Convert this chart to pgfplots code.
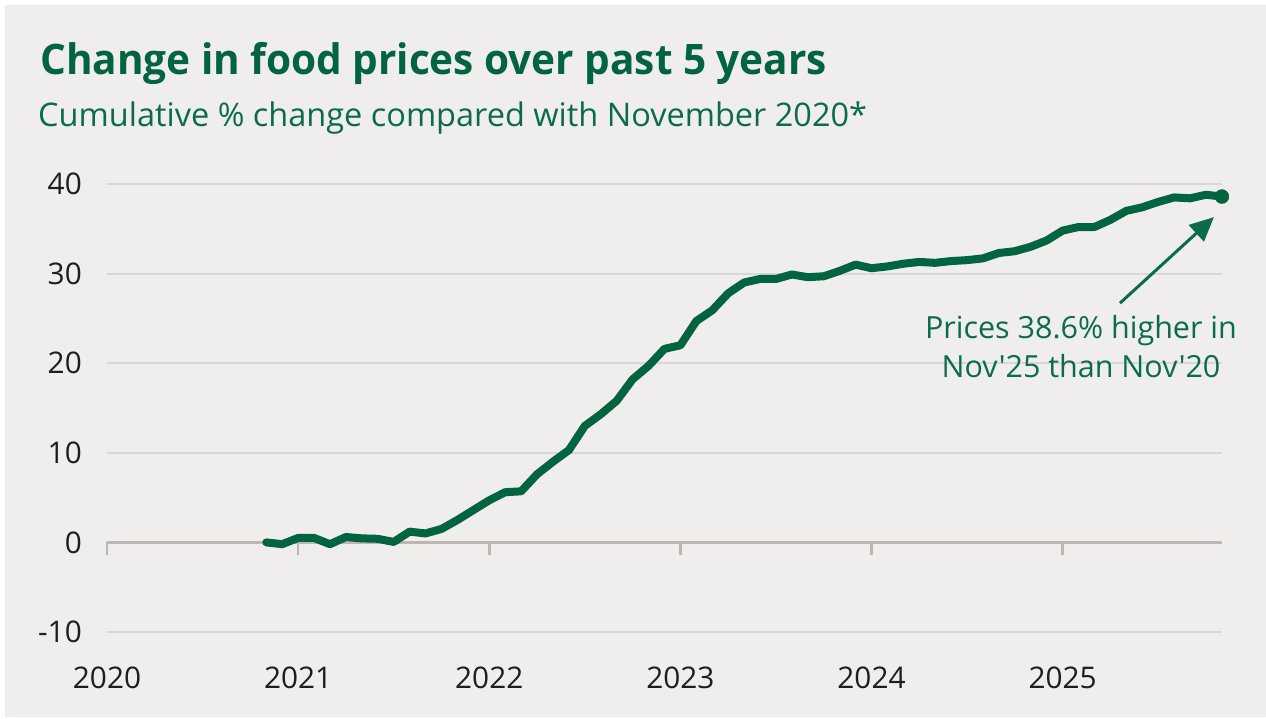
\documentclass[border=0pt]{standalone}
\usepackage{fontspec}
\setmainfont{Open Sans}
\newfontfamily\titlefont{Open Sans}[FakeStretch=0.965]
\newfontfamily\annfont{Open Sans}[Ligatures=TeXOff]
\usepackage{pgfplots}
\pgfplotsset{compat=1.18}
\usetikzlibrary{arrows.meta}
\definecolor{bg}{RGB}{239,238,236}
\definecolor{fgreen}{RGB}{0,99,65}
\definecolor{sgreen}{RGB}{10,108,76}
\definecolor{gridc}{RGB}{218,216,213}
\definecolor{zeroc}{RGB}{190,182,176}
\definecolor{tickc}{RGB}{30,30,30}
\pgfplotstableread{
m v
10 0.0
11 -0.2
12 0.5
13 0.5
14 -0.2
15 0.6
16 0.45
17 0.4
18 0.05
19 1.2
20 1.0
21 1.5
22 2.5
23 3.6
24 4.7
25 5.6
26 5.7
27 7.6
28 9.0
29 10.3
30 13.0
31 14.3
32 15.8
33 18.2
34 19.7
35 21.6
36 22.0
37 24.7
38 25.9
39 27.8
40 29.0
41 29.4
42 29.4
43 29.9
44 29.6
45 29.7
46 30.3
47 31.0
48 30.6
49 30.8
50 31.1
51 31.3
52 31.2
53 31.4
54 31.5
55 31.7
56 32.3
57 32.5
58 33.0
59 33.7
60 34.8
61 35.2
62 35.2
63 36.0
64 37.0
65 37.4
66 38.0
67 38.5
68 38.4
69 38.8
70 38.6
}\foodtable
\begin{document}
\begin{tikzpicture}[x=1pt,y=1pt]
\fill[white] (0pt,0pt) rectangle (1266pt,719pt);
\fill[bg] (5pt,2pt) rectangle (1266pt,714pt);
\node[anchor=base west, inner sep=0pt, text=fgreen, font=\titlefont\bfseries\fontsize{42}{50}\selectfont] at (40pt,644pt) {Change in food prices over past 5 years};
\node[anchor=base west, inner sep=0pt, text=sgreen, font=\fontsize{32.5}{38}\selectfont] at (38pt,592pt) {Cumulative \% change compared with November 2020*};
\begin{axis}[
  at={(107pt,87pt)}, anchor=south west, scale only axis,
  width=1115pt, height=448pt,
  xmin=0, xmax=70, ymin=-10, ymax=40,
  clip=false,
  axis line style={draw=none},
  major tick length=0pt,
  xtick={0,12,24,36,48,60},
  xticklabels={2020,2021,2022,2023,2024,2025},
  ytick={-10,0,10,20,30,40},
  yticklabels={-10,0,10,20,30,40},
  ymajorgrids,
  grid style={gridc, line width=2pt},
  xticklabel style={font=\fontsize{29.8}{35}\selectfont, text=tickc, anchor=base, inner sep=0pt, yshift=-57pt},
  yticklabel style={font=\fontsize{29.8}{35}\selectfont, text=tickc, anchor=east, inner sep=0pt, xshift=-25pt},
]
\draw[zeroc, line width=2.5pt] (axis cs:0,0) -- (axis cs:70,0);
\draw[zeroc, line width=2.5pt] (axis cs:0,0) -- ++(0pt,-13pt);
\draw[zeroc, line width=2.5pt] (axis cs:12,0) -- ++(0pt,-13pt);
\draw[zeroc, line width=2.5pt] (axis cs:24,0) -- ++(0pt,-13pt);
\draw[zeroc, line width=2.5pt] (axis cs:36,0) -- ++(0pt,-13pt);
\draw[zeroc, line width=2.5pt] (axis cs:48,0) -- ++(0pt,-13pt);
\draw[zeroc, line width=2.5pt] (axis cs:60,0) -- ++(0pt,-13pt);
\addplot[fgreen, line width=8pt, line join=round, line cap=round] table[x=m, y=v] {\foodtable};
\addplot[only marks, mark=*, mark size=7pt, fgreen] coordinates {(70,38.6)};
\draw[sgreen, line width=3pt, -{Triangle[length=24pt, width=22pt]}] (axis cs:63.6,26.7) -- (axis cs:69.5,36.3);
\node[anchor=base, inner sep=0pt, text=sgreen, font=\annfont\fontsize{30.5}{36}\selectfont] at (axis cs:61.15,22.81) {Prices 38.6\% higher in};
\node[anchor=base, inner sep=0pt, text=sgreen, font=\annfont\fontsize{30.5}{36}\selectfont] at (axis cs:61.15,18.35) {Nov'25 than Nov'20};
\end{axis}
\end{tikzpicture}
\end{document}
